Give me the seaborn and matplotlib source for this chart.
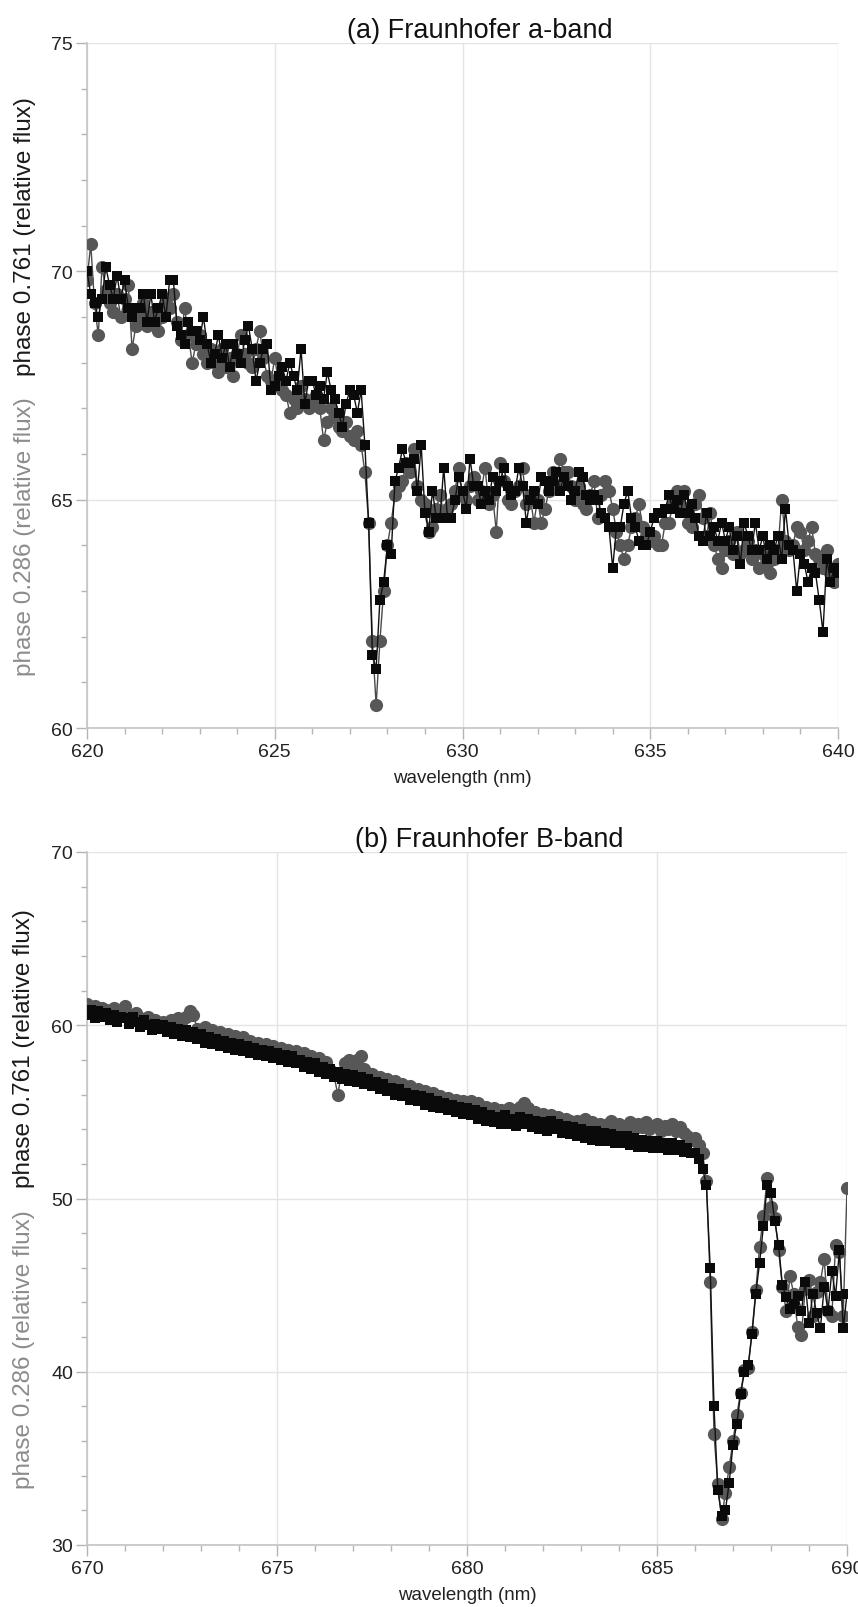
import numpy as np
import pandas as pd
import matplotlib
matplotlib.use("Agg")
import matplotlib.pyplot as plt
from matplotlib.ticker import MultipleLocator
import seaborn as sns

# ---------------- data ----------------
# panel (a): wavelength grid 620.0 .. 640.0 nm, 0.1 nm sampling
wl_a_start, wl_a_stop, wl_step = 620.0, 640.0, 0.1
wl_b_start, wl_b_stop = 670.0, 690.0

a_phase0761 = [
    70.0, 69.5, 69.3, 69.0, 69.4, 70.1, 69.7, 69.4, 69.9, 69.4,
    69.8, 69.2, 69.0, 69.2, 69.2, 69.5, 68.9, 69.5, 68.9, 69.2,
    69.5, 69.0, 69.8, 69.8, 68.8, 68.6, 68.4, 68.9, 68.7, 68.7,
    68.5, 69.0, 68.4, 68.0, 68.2, 68.6, 68.1, 68.4, 67.9, 68.4,
    68.2, 68.0, 68.5, 68.8, 68.3, 67.6, 68.0, 68.3, 68.4, 67.4,
    67.5, 67.7, 67.9, 67.6, 68.0, 67.7, 67.4, 68.3, 67.1, 67.6,
    67.6, 67.3, 67.5, 67.2, 67.8, 67.4, 67.2, 66.9, 66.6, 67.1,
    67.4, 67.3, 66.9, 67.4, 66.2, 64.5, 61.6, 61.3, 62.8, 63.2,
    64.0, 63.8, 65.4, 65.7, 66.1, 65.8, 65.8, 65.9, 65.2, 66.2,
    64.7, 64.3, 65.2, 64.6, 64.6, 65.7, 64.6, 64.6, 65.0, 65.5,
    65.2, 64.8, 65.9, 65.3, 65.3, 64.9, 65.2, 65.0, 65.5, 65.2,
    65.4, 65.7, 65.3, 65.1, 65.2, 65.7, 65.3, 64.5, 65.0, 65.2,
    64.9, 65.5, 65.4, 65.2, 65.4, 65.6, 65.2, 65.5, 65.3, 65.0,
    65.2, 65.6, 65.5, 65.1, 65.0, 65.1, 65.0, 64.7, 64.6, 64.4,
    63.5, 64.4, 64.4, 64.9, 65.2, 64.6, 64.4, 64.1, 64.0, 64.0,
    64.3, 64.6, 64.7, 64.7, 64.8, 65.1, 64.8, 65.0, 64.7, 65.1,
    64.7, 64.9, 64.6, 64.2, 64.1, 64.7, 64.2, 64.4, 64.1, 64.5,
    64.1, 64.4, 63.9, 64.2, 63.6, 64.5, 64.2, 63.9, 64.5, 63.9,
    64.2, 63.7, 64.0, 63.9, 64.2, 63.7, 64.8, 64.0, 63.9, 63.0,
    63.8, 63.6, 63.2, 63.5, 63.4, 62.8, 62.1, 63.7, 63.2, 63.5,
    63.4,
]

a_phase0286 = [
    69.8, 70.6, 69.3, 68.6, 70.1, 69.6, 69.3, 69.1, 69.5, 69.0,
    69.4, 69.7, 68.3, 68.8, 69.0, 69.3, 68.8, 69.1, 68.9, 68.7,
    69.0, 69.3, 69.2, 69.5, 68.9, 68.5, 69.2, 68.6, 68.0, 68.4,
    68.6, 68.2, 68.0, 68.3, 68.0, 67.8, 68.3, 67.9, 68.1, 67.7,
    68.2, 68.6, 68.2, 68.0, 67.9, 68.3, 68.7, 68.1, 67.7, 67.6,
    68.1, 67.6, 67.4, 67.3, 66.9, 67.2, 67.0, 67.5, 67.2, 67.0,
    67.1, 67.3, 67.0, 66.3, 66.7, 67.0, 66.8, 66.6, 66.5, 66.7,
    66.4, 66.3, 66.5, 66.2, 65.6, 64.5, 61.9, 60.5, 61.9, 63.0,
    64.0, 64.5, 65.1, 65.3, 65.4, 65.8, 65.6, 66.1, 65.3, 65.0,
    64.9, 64.3, 64.4, 64.8, 65.1, 64.7, 64.8, 64.9, 65.2, 65.7,
    65.1, 65.0, 65.3, 65.5, 65.0, 65.2, 65.7, 64.9, 65.1, 64.3,
    65.8, 65.4, 65.0, 64.9, 65.2, 65.3, 65.7, 64.9, 65.1, 64.5,
    65.0, 64.5, 64.8, 65.2, 65.6, 65.3, 65.9, 65.6, 65.6, 65.3,
    65.0, 65.3, 64.9, 64.8, 65.1, 65.4, 64.6, 65.1, 65.4, 65.2,
    64.8, 64.3, 64.0, 63.7, 64.0, 64.4, 64.6, 64.9, 64.4, 64.2,
    64.1, 64.2, 64.0, 64.0, 64.5, 64.5, 64.9, 65.2, 64.9, 65.2,
    64.5, 64.4, 64.9, 65.1, 64.6, 64.2, 64.7, 64.0, 63.7, 63.5,
    63.9, 64.1, 63.8, 64.3, 63.8, 63.9, 64.1, 63.7, 63.9, 63.5,
    63.8, 63.6, 63.4, 63.7, 63.9, 65.0, 64.1, 63.9, 64.0, 64.4,
    64.3, 63.9, 64.1, 64.4, 63.8, 63.7, 63.5, 63.9, 63.4, 63.2,
    63.6,
]

b_phase0761 = [
    60.6, 60.9, 60.4, 60.8, 60.5, 60.7, 60.3, 60.6, 60.2, 60.5,
    60.4, 60.1, 60.5, 60.2, 59.9, 60.3, 60.0, 59.7, 60.1, 59.8,
    60.0, 59.6, 59.9, 59.5, 59.8, 59.4, 59.7, 59.3, 59.6, 59.2,
    59.5, 59.0, 59.3, 58.9, 59.2, 58.8, 59.1, 58.7, 59.0, 58.6,
    58.9, 58.5, 58.8, 58.4, 58.7, 58.3, 58.6, 58.2, 58.5, 58.1,
    58.4, 58.0, 58.3, 57.9, 58.2, 57.8, 58.0, 57.6, 57.9, 57.5,
    57.8, 57.3, 57.6, 57.2, 57.5, 57.0, 57.3, 56.9, 57.2, 56.8,
    57.1, 56.7, 57.0, 56.6, 56.9, 56.5, 56.7, 56.3, 56.6, 56.2,
    56.4, 56.0, 56.3, 55.9, 56.1, 55.7, 56.0, 55.6, 55.9, 55.4,
    55.8, 55.3, 55.6, 55.2, 55.5, 55.1, 55.4, 55.0, 55.3, 54.9,
    55.2, 54.8, 55.1, 54.6, 55.0, 54.5, 54.8, 54.4, 54.7, 54.3,
    54.8, 54.3, 54.6, 54.2, 54.7, 54.3, 54.6, 54.1, 54.5, 54.0,
    54.4, 53.9, 54.5, 54.0, 54.3, 53.8, 54.2, 53.7, 54.1, 53.6,
    54.0, 53.5, 53.9, 53.4, 53.9, 53.3, 53.8, 53.3, 53.7, 53.2,
    53.6, 53.2, 53.6, 53.1, 53.5, 53.0, 53.4, 53.0, 53.3, 52.9,
    53.3, 52.9, 53.2, 52.8, 53.2, 52.8, 53.1, 52.7, 52.9, 52.6,
    52.6, 52.3, 51.7, 50.8, 46.0, 38.0, 33.2, 31.7, 32.0, 33.6,
    35.8, 37.0, 38.7, 40.0, 40.4, 42.2, 44.5, 46.3, 48.4, 50.8,
    50.3, 48.7, 47.3, 45.0, 44.3, 43.6, 43.9, 44.4, 43.5, 45.2,
    42.8, 44.5, 43.4, 42.5, 44.9, 43.5, 45.8, 44.4, 47.0, 42.5,
    44.5,
]

b_phase0286 = [
    61.2, 60.8, 61.1, 60.6, 61.0, 60.9, 60.5, 61.0, 60.7, 60.9,
    61.1, 60.6, 60.3, 60.7, 60.4, 60.2, 60.5, 60.1, 60.3, 59.9,
    60.2, 60.0, 60.3, 59.8, 60.4, 60.3, 60.5, 60.8, 60.6, 59.8,
    59.6, 59.9, 59.4, 59.7, 59.3, 59.6, 59.2, 59.5, 59.1, 59.4,
    59.0, 59.3, 58.9, 59.1, 58.7, 59.0, 58.6, 58.9, 58.5, 58.8,
    58.4, 58.7, 58.3, 58.6, 58.2, 58.5, 58.1, 58.4, 57.9, 58.2,
    57.8, 58.1, 57.7, 57.9, 57.4, 57.1, 56.0, 57.3, 57.8, 58.0,
    57.6, 58.0, 58.2, 57.5, 57.0, 57.2, 56.8, 57.0, 56.6, 56.9,
    56.5, 56.8, 56.4, 56.6, 56.2, 56.5, 56.1, 56.3, 55.9, 56.2,
    55.8, 56.1, 55.7, 55.9, 55.5, 55.8, 55.4, 55.7, 55.3, 55.6,
    55.4, 55.6, 55.2, 55.5, 55.1, 55.3, 54.9, 55.2, 54.8, 55.1,
    54.9, 55.2, 54.8, 55.1, 55.3, 55.5, 55.2, 54.8, 55.0, 54.6,
    54.9, 54.5, 54.8, 54.4, 54.7, 54.3, 54.6, 54.5, 54.2, 54.5,
    54.3, 54.6, 54.2, 54.4, 54.1, 54.3, 54.0, 54.3, 54.5, 54.1,
    54.3, 54.0, 54.2, 54.4, 54.0, 54.3, 54.1, 54.4, 54.0, 54.2,
    54.3, 53.9, 54.2, 54.0, 54.3, 53.9, 54.1, 53.8, 53.6, 53.4,
    53.5, 53.1, 52.6, 51.0, 45.2, 36.4, 33.5, 31.5, 33.0, 34.5,
    36.0, 37.5, 38.8, 40.1, 40.2, 42.3, 44.7, 47.2, 49.0, 51.2,
    49.5, 48.9, 47.0, 44.9, 43.5, 45.5, 44.5, 42.6, 42.1, 44.8,
    45.3, 43.2, 44.6, 45.2, 46.5, 43.5, 43.2, 47.3, 46.9, 43.2,
    50.6,
]

panel_titles = ["(a) Fraunhofer a-band", "(b) Fraunhofer B-band"]
label_grey = "phase 0.286 (relative flux)"
label_black = "phase 0.761 (relative flux)"
x_label = "wavelength (nm)"

# ---------------- styling ----------------
sns.set_theme(style="white")
plt.rcParams["font.family"] = ["Liberation Sans", "DejaVu Sans"]

W, H = 858, 1608
fig = plt.figure(figsize=(W / 100, H / 100), dpi=100)
fig.patch.set_facecolor("white")


def rect(l, r, t, b):
    return [l / W, 1 - b / H, (r - l) / W, (b - t) / H]


ax1 = fig.add_axes(rect(87, 838, 44, 729))
ax2 = fig.add_axes(rect(87, 847, 853, 1546))

GREY_MARK = "#575757"
BLACK_MARK = "#0a0a0a"


def draw(ax, start, stop, grey, black, xlim, ylim, ymajor, yminor, title, tx):
    n = len(grey)
    wl = np.round(np.linspace(start, stop, n), 2)
    df = pd.DataFrame({"wl": wl, "g": grey, "b": black})
    sns.lineplot(data=df, x="wl", y="g", ax=ax, estimator=None, sort=False,
                 color="#4a4a4a", lw=1.0, marker="o", markersize=9.5,
                 markerfacecolor=GREY_MARK, markeredgewidth=0, zorder=3)
    sns.lineplot(data=df, x="wl", y="b", ax=ax, estimator=None, sort=False,
                 color="#111111", lw=1.0, marker="s", markersize=7.3,
                 markerfacecolor=BLACK_MARK, markeredgewidth=0, zorder=4)
    ax.set_xlim(*xlim)
    ax.set_ylim(*ylim)
    ax.xaxis.set_major_locator(MultipleLocator(5))
    ax.xaxis.set_minor_locator(MultipleLocator(1))
    ax.yaxis.set_major_locator(MultipleLocator(ymajor))
    ax.yaxis.set_minor_locator(MultipleLocator(yminor))
    ax.grid(True, which="major", color="#e4e4e4", lw=1.0, zorder=0)
    ax.set_axisbelow(True)
    for s in ["top", "right"]:
        ax.spines[s].set_visible(False)
    for s in ["left", "bottom"]:
        ax.spines[s].set_color("#c4c4c4")
        ax.spines[s].set_linewidth(1.2)
    ax.tick_params(axis="both", which="both", bottom=True, left=True,
                   direction="out", color="#b5b5b5", width=1.0)
    ax.tick_params(axis="both", which="major", length=8, labelsize=14,
                   labelcolor="#222222")
    ax.tick_params(axis="both", which="minor", length=4)
    ax.tick_params(axis="x", which="major", pad=3)
    ax.tick_params(axis="y", which="major", pad=2)
    ax.set_xlabel(x_label, fontsize=13.5, labelpad=6, color="#222222")
    ax.set_ylabel("")
    ax.set_title(title, fontsize=19.5, x=tx, pad=2, color="#111111")
    # two-coloured y label
    hpx = ax.get_position().height * H
    gap = 11 / hpx
    ax.text(-0.083, 0.5 - gap, label_grey, transform=ax.transAxes, rotation=90,
            ha="center", va="top", color="#8c8c8c", fontsize=17.5)
    ax.text(-0.083, 0.5 + gap, label_black, transform=ax.transAxes, rotation=90,
            ha="center", va="bottom", color="#1a1a1a", fontsize=17.5)


draw(ax1, wl_a_start, wl_a_stop, a_phase0286, a_phase0761, (620, 640), (60, 75),
     5, 1, panel_titles[0], 0.523)
draw(ax2, wl_b_start, wl_b_stop, b_phase0286, b_phase0761, (670, 690), (30, 70),
     10, 2, panel_titles[1], 0.529)

fig.savefig("out.png", dpi=100, facecolor="white")
